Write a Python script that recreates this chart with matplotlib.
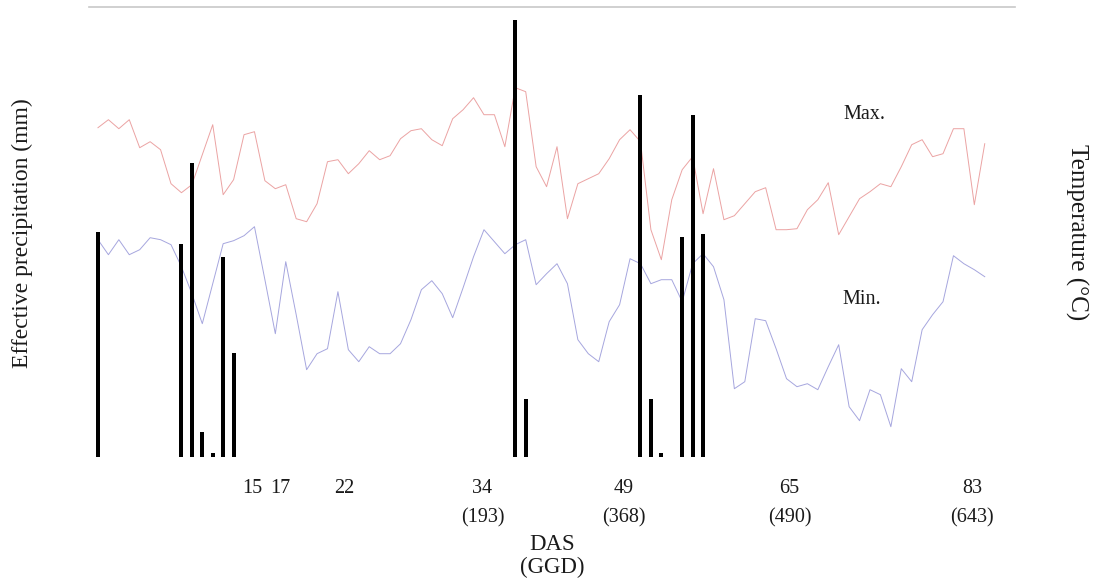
import numpy as np
import matplotlib
matplotlib.use("Agg")
import matplotlib.pyplot as plt

plt.rcParams['font.family'] = ['Liberation Serif', 'DejaVu Serif']

# Daily series (index = day in record)
t_max = [32.9, 33.7, 32.8, 33.7, 30.9, 31.5, 30.7, 27.3, 26.4, 27.2,
         30.2, 33.2, 26.2, 27.7, 32.2, 32.5, 27.6, 26.8, 27.2, 23.8,
         23.5, 25.3, 29.5, 29.7, 28.3, 29.3, 30.6, 29.7, 30.1, 31.8,
         32.6, 32.8, 31.7, 31.1, 33.8, 34.7, 35.9, 34.2, 34.2, 31.0,
         36.9, 36.5, 29.0, 27.0, 31.0, 23.8, 27.3, 27.8, 28.3, 29.8,
         31.7, 32.7, 31.5, 22.7, 19.7, 25.7, 28.7, 30.0, 24.3, 28.8,
         23.7, 24.1, 25.3, 26.5, 26.9, 22.7, 22.7, 22.8, 24.7, 25.7,
         27.4, 22.2, 24.0, 25.8, 26.5, 27.3, 27.0, 29.0, 31.2, 31.7,
         30.0, 30.3, 32.8, 32.8, 25.2, 31.3]
t_min = [21.7, 20.2, 21.7, 20.2, 20.7, 21.9, 21.7, 21.2, 19.0, 16.3,
         13.3, 17.3, 21.3, 21.6, 22.1, 23.0, 17.7, 12.3, 19.5, 14.2,
         8.7, 10.3, 10.8, 16.5, 10.7, 9.5, 11.0, 10.3, 10.3, 11.3,
         13.7, 16.7, 17.6, 16.3, 13.9, 16.9, 20.0, 22.7, 21.5, 20.3,
         21.2, 21.7, 17.2, 18.3, 19.3, 17.3, 11.7, 10.3, 9.5, 13.5,
         15.2, 19.8, 19.3, 17.3, 17.7, 17.7, 15.5, 19.3, 20.3, 19.0,
         15.7, 6.8, 7.5, 13.8, 13.6, 10.8, 7.8, 7.0, 7.3, 6.7,
         9.0, 11.2, 5.0, 3.6, 6.7, 6.2, 3.0, 8.8, 7.5, 12.7,
         14.2, 15.5, 20.1, 19.3, 18.7, 18.0]
days = np.arange(len(t_max))

rain_days = [0, 8, 9, 10, 11, 12, 13, 40, 41, 52, 53, 54, 56, 57, 58]
rain_mm = [22.5, 21.3, 29.4, 2.5, 0.4, 20.0, 10.4, 43.7, 5.8, 36.2, 5.8, 0.4, 22.0, 34.2, 22.3]

# DAS labels with growing degree days underneath
tick_pos = [14.8, 17.45, 23.6, 36.85, 50.4, 66.3, 83.8]
tick_labels = ["15", "17", "22", "34\n(193)", "49\n(368)", "65\n(490)", "83\n(643)"]

TEXT_COLOUR = "#1a1a1a"

fig = plt.figure(figsize=(10.95, 5.8), dpi=100)
ax = fig.add_axes([89 / 1095, 1 - 456.7 / 580, 926 / 1095, 449.7 / 580])
ax_rain = ax.twinx()

# Temperature lines
ax.plot(days, t_max, color="#eba3a3", linewidth=0.7)
ax.plot(days, t_min, color="#a6a6de", linewidth=0.7)
ax.set_ylim(0, 44.97)
ax.set_xlim(-0.86, 87.9)

# Precipitation bars
ax_rain.bar(rain_days, rain_mm, width=0.38, color="black")
ax_rain.set_ylim(0, 44.97)
ax_rain.set_yticks([])

for a in (ax, ax_rain):
    for side in ("left", "right", "bottom", "top"):
        a.spines[side].set_visible(False)
ax.spines["top"].set_visible(True)
ax.spines["top"].set_color("#c8c8c8")
ax.spines["top"].set_linewidth(1.2)

ax.set_yticks([])
ax.set_xticks(tick_pos, tick_labels)
ax.tick_params(axis="x", length=0, pad=16, labelsize=14.5, labelcolor=TEXT_COLOUR)
for lbl in ax.get_xticklabels():
    lbl.set_linespacing(1.75)

ax.text(73.5, 34.2, "Max.", fontsize=14.5, color=TEXT_COLOUR, ha="center", va="center")
ax.text(73.2, 15.7, "Min.", fontsize=14.5, color=TEXT_COLOUR, ha="center", va="center")

fig.text(552 / 1095, 1 - 556 / 580, "DAS\n(GGD)", fontsize=16.5, color=TEXT_COLOUR,
         ha="center", va="center", linespacing=1.15)
fig.text(22 / 1095, 1 - 233 / 580, "Effective precipitation (mm)", fontsize=17,
         color=TEXT_COLOUR, rotation=90, ha="center", va="center")
fig.text(1077 / 1095, 1 - 232 / 580, "Temperature (°C)", fontsize=18,
         color=TEXT_COLOUR, rotation=270, ha="center", va="center")

fig.savefig("out.png", dpi=100)
